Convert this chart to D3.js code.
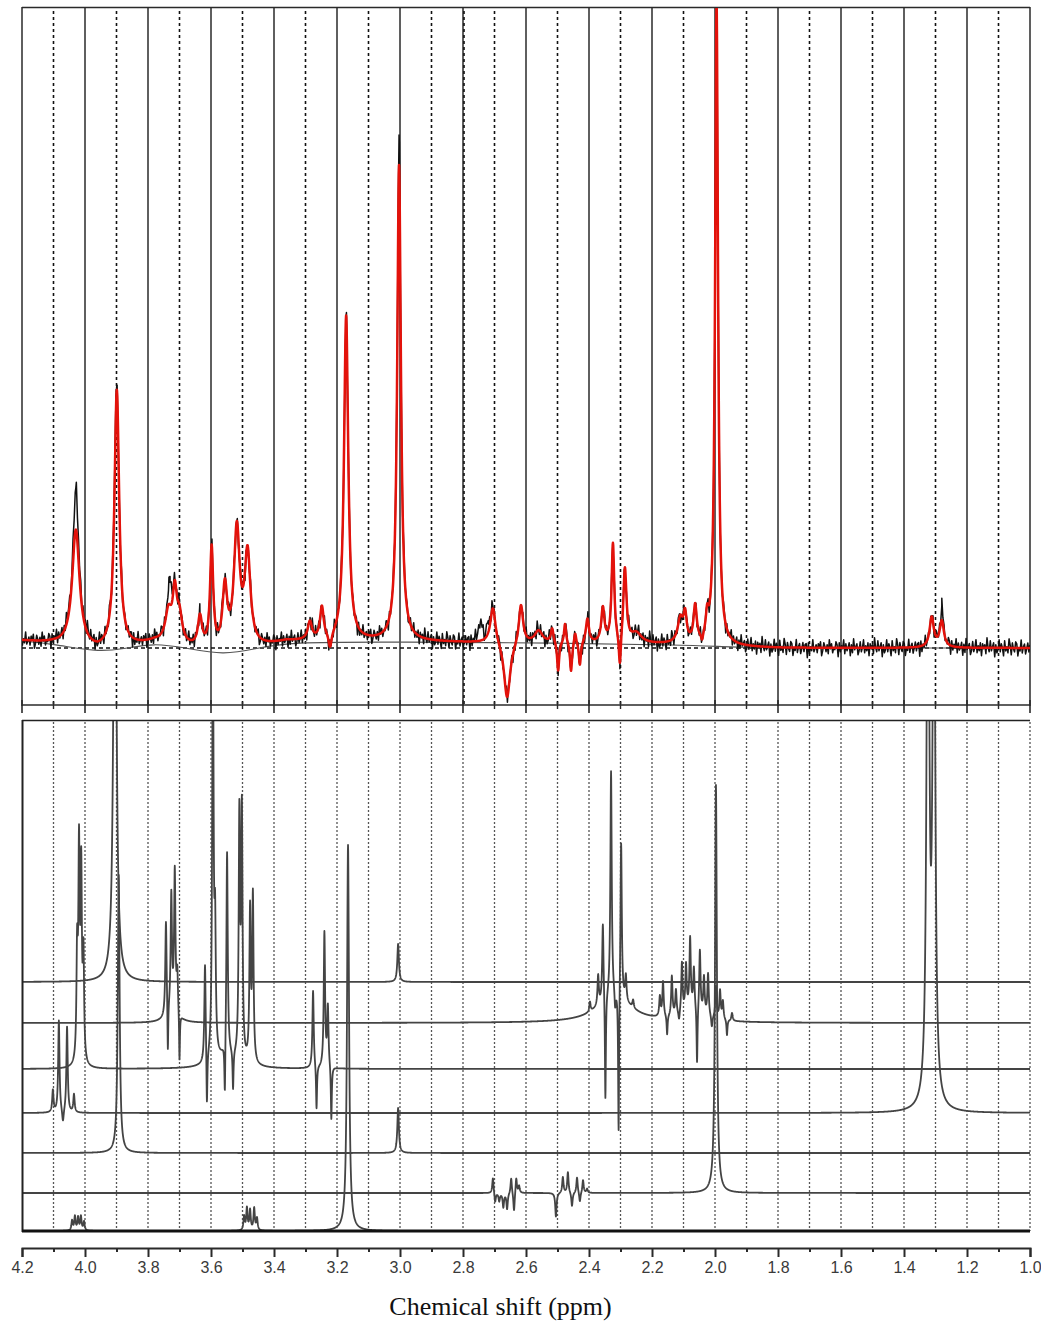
<!DOCTYPE html>
<html>
<head>
<meta charset="utf-8">
<script src="https://cdn.jsdelivr.net/npm/d3@7"></script>
<style>
  body { margin: 0; background: #fff; }
  svg { display: block; }
</style>
</head>
<body>
<svg id="chart" width="1041" height="1323"></svg>
<script>
// ---------------- data ----------------
// chemical-shift axis (ppm, decreasing to the right)
const ppmDomain = [4.2, 1.0];
const majorTicks = [4.2, 4.0, 3.8, 3.6, 3.4, 3.2, 3.0, 2.8, 2.6, 2.4, 2.2, 2.0, 1.8, 1.6, 1.4, 1.2, 1.0];
const minorTicks = [4.1, 3.9, 3.7, 3.5, 3.3, 3.1, 2.9, 2.7, 2.5, 2.3, 2.1, 1.9, 1.7, 1.5, 1.3, 1.1];
const markerLines = [2.8];
const axisTitle = "Chemical shift (ppm)";

// fitted spectrum: [ppm, amplitude, half-width (ppm)]
const fitPeaks = [
  [4.029, 117, 0.014],
  [3.899, 258, 0.009],
  [3.735, 30, 0.012],
  [3.715, 48, 0.008],
  [3.700, 26, 0.010],
  [3.635, 30, 0.008],
  [3.598, 100, 0.006],
  [3.556, 62, 0.009],
  [3.518, 118, 0.011],
  [3.484, 92, 0.011],
  [3.286, 18, 0.008],
  [3.248, 32, 0.007],
  [3.222, -16, 0.006],
  [3.171, 325, 0.008],
  [3.003, 476, 0.007],
  [2.705, 37, 0.010],
  [2.660, -58, 0.012],
  [2.616, 40, 0.008],
  [2.560, 12, 0.015],
  [2.517, 14, 0.005],
  [2.498, -30, 0.004],
  [2.476, 20, 0.004],
  [2.457, -30, 0.004],
  [2.444, 12, 0.004],
  [2.429, -24, 0.004],
  [2.405, 24, 0.006],
  [2.356, 34, 0.006],
  [2.324, 98, 0.005],
  [2.302, -35, 0.004],
  [2.286, 74, 0.006],
  [2.250, 10, 0.020],
  [2.110, 24, 0.010],
  [2.095, 26, 0.006],
  [2.063, 36, 0.006],
  [2.041, -8, 0.004],
  [2.025, 20, 0.005],
  [1.995, 642, 0.0055],
  [1.312, 30, 0.008],
  [1.280, 26, 0.008]
];
// measured minus fit, structured part
const residualPeaks = [
  [4.029, 42, 0.008],
  [3.905, 14, 0.004],
  [3.730, 28, 0.005],
  [3.003, 30, 0.003],
  [2.745, 18, 0.008],
  [2.720, 10, 0.005],
  [1.280, 14, 0.004]
];
// smooth fit baseline
const fitBaselinePpm = [4.20, 4.10, 3.96, 3.88, 3.78, 3.68, 3.56, 3.46, 3.36, 3.00, 2.50, 2.10, 1.95, 1.80, 1.00];
const fitBaselineValues = [7, 4, -4, -1, 5, 0, -7, -1, 6, 6, 5, 3, 1, 0, 0];
// measured noise samples
const spectrumNoise = [3,-4,5,-1,-6,4,1,-5,8,-3,0,-8,4,6,-4,-1,5,-7,3,9,-5,1,-3,7,-8,0,4,-4,8,-2,
  -5,3,-9,5,1,-3,7,-4,0,10,-6,3,-1,4,-8,5,-3,2,-5,8,0,-4,6,-3,-7,4,1,-2,9,-5,
  3,-8,5,0,-3,4,-6,8,-1,2,-4,5,-9,3,6,-2,0,-5,4,-1,8,-6,3,-4,1,5,-3,-8,6,0,
  4,-5,3,-1,-4,8,-3,1,-6,5,-10,4];

// basis spectra, top to bottom: [ppm, amplitude, half-width (ppm)]
const creatinePeaks = [
  [3.905, 600, 0.005],
  [3.006, 38, 0.003]
];
const glutamatePeaks = [
  [3.743, 95], [3.737, -55, 0.0015], [3.726, 115], [3.715, 140], [3.707, 40], [3.700, -50, 0.0015],
  [3.725, 10, 0.02],
  [2.397, 10], [2.371, 30], [2.356, 80], [2.348, -110, 0.0018], [2.330, 225], [2.317, -20],
  [2.306, -150, 0.0018], [2.298, 160], [2.283, 25], [2.260, 8],
  [2.320, 28, 0.06],
  [2.175, 20], [2.165, 35], [2.152, -20, 0.0018], [2.137, 40], [2.124, 25], [2.114, -10],
  [2.105, 50], [2.092, 45], [2.079, 70], [2.067, 40], [2.057, -60, 0.0018], [2.048, 62],
  [2.035, 36], [2.022, 42], [2.010, -12], [1.997, 32], [1.984, 28], [1.975, 18],
  [1.962, -16, 0.0018], [1.946, 8],
  [2.070, 12, 0.04]
];
const myoInositolPeaks = [
  [4.025, 106], [4.019, 205], [4.012, 184], [4.005, 103],
  [3.619, 100], [3.613, -60, 0.0018],
  [3.594, 450], [3.587, 120],
  [3.556, -60, 0.0018], [3.549, 205],
  [3.530, -40, 0.0018],
  [3.510, 240], [3.502, 245],
  [3.476, 150], [3.467, 165],
  [3.550, 12, 0.04],
  [3.276, 78], [3.265, -45, 0.0018], [3.240, 135], [3.229, 60], [3.218, -55, 0.0018]
];
const lactatePeaks = [
  [4.102, 22], [4.083, 92], [4.070, -14, 0.003], [4.057, 86], [4.035, 18],
  [1.324, 700, 0.0045], [1.305, 650, 0.0045]
];
const phosphocreatinePeaks = [
  [3.893, 278, 0.0035],
  [3.006, 45, 0.003]
];
const naaPeaks = [
  [1.997, 408, 0.0035],
  [2.705, 16], [2.698, -10], [2.685, -8], [2.672, -14], [2.660, -16],
  [2.647, 16], [2.638, -20], [2.631, 16], [2.622, 7],
  [2.505, -24], [2.483, 16], [2.467, 21], [2.454, -14], [2.438, 16],
  [2.429, -10], [2.419, 13], [2.406, 4]
];
const cholinePeaks = [
  [3.165, 386, 0.0038],
  [4.041, 10], [4.032, 14], [4.022, 13], [4.013, 14], [4.003, 9],
  [3.495, 14], [3.486, 22], [3.476, 20], [3.463, 22], [3.454, 12]
];
const basisSpectra = [creatinePeaks, glutamatePeaks, myoInositolPeaks, lactatePeaks,
                      phosphocreatinePeaks, naaPeaks, cholinePeaks];

// ---------------- layout ----------------
const svg = d3.select("#chart");
const left = 22, right = 1030;
const topPanel = { top: 8, bottom: 706 };
const botPanel = { top: 720, bottom: 1231 };
const stackOffsets = [249, 208, 162, 118, 78, 38, 0];
const defaultWidth = 0.0025;

const x = d3.scaleLinear().domain(ppmDomain).range([left, right]);
const yTop = d3.scaleLinear().domain([-58, 640]).range([topPanel.bottom, topPanel.top]);
const yBot = d3.scaleLinear().domain([0, botPanel.bottom - botPanel.top]).range([botPanel.bottom, botPanel.top]);
const fitBaseline = d3.scaleLinear().domain(fitBaselinePpm).range(fitBaselineValues);

// Lorentzian line shape summed over a peak list
function lineShape(peaks, ppm) {
  let s = 0;
  for (const [p0, h, w = defaultWidth] of peaks) {
    const d = ppm - p0;
    s += h * w * w / (d * d + w * w);
  }
  return s;
}
function ppmGrid(step, peaks) {
  const pts = d3.range(ppmDomain[1], ppmDomain[0] + step / 2, step);
  peaks.forEach(p => pts.push(p[0]));
  return pts.sort(d3.ascending);
}

const defs = svg.append("defs");
defs.append("clipPath").attr("id", "clipTop").append("rect")
  .attr("x", left).attr("y", topPanel.top).attr("width", right - left).attr("height", topPanel.bottom - topPanel.top);
defs.append("clipPath").attr("id", "clipBot").append("rect")
  .attr("x", left).attr("y", botPanel.top).attr("width", right - left).attr("height", botPanel.bottom - botPanel.top);

// ---------------- upper panel: measured spectrum and fit ----------------
const gTop = svg.append("g");
gTop.selectAll("line.solid").data(majorTicks).join("line")
  .attr("x1", d => x(d)).attr("x2", d => x(d))
  .attr("y1", topPanel.top - 1).attr("y2", topPanel.bottom)
  .attr("stroke", "#2a2a2a").attr("stroke-width", 1.5);
gTop.selectAll("line.dash").data(minorTicks.concat(markerLines)).join("line")
  .attr("x1", d => x(d) + (markerLines.includes(d) ? 1 : 0))
  .attr("x2", d => x(d) + (markerLines.includes(d) ? 1 : 0))
  .attr("y1", topPanel.top + 3).attr("y2", topPanel.bottom)
  .attr("stroke", "#111").attr("stroke-width", 1.6).attr("stroke-dasharray", "3,3");
gTop.append("line")
  .attr("x1", left).attr("x2", right).attr("y1", topPanel.top - 0.5).attr("y2", topPanel.top - 0.5)
  .attr("stroke", "#2a2a2a").attr("stroke-width", 1.6);
gTop.append("line")
  .attr("x1", left).attr("x2", right).attr("y1", yTop(0)).attr("y2", yTop(0))
  .attr("stroke", "#111").attr("stroke-width", 1.3).attr("stroke-dasharray", "4,3");

// ticks along the lower edge of the upper panel
const topAxisY = 705;
gTop.append("line").attr("x1", left).attr("x2", right).attr("y1", topAxisY).attr("y2", topAxisY)
  .attr("stroke", "#2a2a2a").attr("stroke-width", 1.6);
gTop.selectAll("line.tmaj").data(majorTicks).join("line")
  .attr("x1", d => x(d)).attr("x2", d => x(d)).attr("y1", topAxisY - 5).attr("y2", topAxisY + 8)
  .attr("stroke", "#2a2a2a").attr("stroke-width", 1.6);
gTop.selectAll("line.tmin").data(minorTicks).join("line")
  .attr("x1", d => x(d)).attr("x2", d => x(d)).attr("y1", topAxisY - 3).attr("y2", topAxisY + 4)
  .attr("stroke", "#2a2a2a").attr("stroke-width", 1.4);

const topLine = d3.line().x(d => x(d[0])).y(d => yTop(d[1]));
const spectra = gTop.append("g").attr("clip-path", "url(#clipTop)");

// baseline of the fit
spectra.append("path")
  .datum(fitBaselinePpm.map((p, i) => [p, fitBaselineValues[i]]))
  .attr("d", d3.line().x(d => x(d[0])).y(d => yTop(d[1])).curve(d3.curveBasis))
  .attr("fill", "none").attr("stroke", "#555").attr("stroke-width", 1.1);

// measured (noisy) spectrum
const noiseStep = 0.0035;
const measured = d3.range(ppmDomain[1], ppmDomain[0] + noiseStep / 2, noiseStep)
  .map((p, i) => [p, spectrumNoise[i % spectrumNoise.length]]);
fitPeaks.concat(residualPeaks).forEach(pk => measured.push([pk[0], 0]));
measured.sort((a, b) => a[0] - b[0]);
const measuredPts = measured.map(([p, n]) =>
  [p, fitBaseline(p) + lineShape(fitPeaks, p) + lineShape(residualPeaks, p) + n]);
spectra.append("path").datum(measuredPts).attr("d", topLine)
  .attr("fill", "none").attr("stroke", "#111").attr("stroke-width", 1.5).attr("stroke-linejoin", "round");

// fit
const fitPts = ppmGrid(0.0008, fitPeaks).map(p => [p, fitBaseline(p) + lineShape(fitPeaks, p)]);
spectra.append("path").datum(fitPts).attr("d", topLine)
  .attr("fill", "none").attr("stroke", "#e3120b").attr("stroke-width", 2.5).attr("stroke-linejoin", "round");

// ---------------- lower panel: stacked basis spectra ----------------
const gBot = svg.append("g");
gBot.selectAll("line.grid").data(minorTicks.concat(majorTicks.filter(d => d !== ppmDomain[0]))).join("line")
  .attr("x1", d => x(d)).attr("x2", d => x(d))
  .attr("y1", botPanel.top + 2).attr("y2", botPanel.bottom)
  .attr("stroke", "#555").attr("stroke-width", 1.3).attr("stroke-dasharray", "2,2");

const botLine = d3.line().x(d => x(d[0])).y(d => yBot(d[1]));
const traces = gBot.append("g").attr("clip-path", "url(#clipBot)");
basisSpectra.forEach((peaks, i) => {
  const pts = ppmGrid(0.0005, peaks).map(p => [p, stackOffsets[i] + lineShape(peaks, p)]);
  traces.append("path").datum(pts).attr("d", botLine)
    .attr("fill", "none").attr("stroke", "#444").attr("stroke-width", 1.8)
    .attr("stroke-linejoin", "round");
});

gBot.append("line").attr("x1", left).attr("x2", right).attr("y1", botPanel.top + 0.5).attr("y2", botPanel.top + 0.5)
  .attr("stroke", "#222").attr("stroke-width", 1.6);
gBot.append("line").attr("x1", left + 0.5).attr("x2", left + 0.5).attr("y1", botPanel.top).attr("y2", botPanel.bottom + 1)
  .attr("stroke", "#222").attr("stroke-width", 2);
gBot.append("line").attr("x1", left).attr("x2", right).attr("y1", botPanel.bottom).attr("y2", botPanel.bottom)
  .attr("stroke", "#111").attr("stroke-width", 3);

// ---------------- chemical shift axis ----------------
const axisY = 1248;
const axisMajor = d3.axisBottom(x).tickValues(majorTicks).tickSizeInner(9).tickSizeOuter(9)
  .tickPadding(5).tickFormat(d3.format(".1f"));
const axisMinor = d3.axisBottom(x).tickValues(minorTicks).tickSize(4).tickFormat("");
const gAxis = svg.append("g").attr("transform", `translate(0,${axisY})`).call(axisMajor);
gAxis.select(".domain").attr("stroke", "#2a2a2a").attr("stroke-width", 2);
gAxis.selectAll(".tick line").attr("stroke", "#2a2a2a").attr("stroke-width", 2);
gAxis.selectAll(".tick text").attr("font-family", "Liberation Sans, Arial, sans-serif")
  .attr("font-size", 16).attr("fill", "#3a3a3a");
const gMinor = svg.append("g").attr("transform", `translate(0,${axisY})`).call(axisMinor);
gMinor.select(".domain").remove();
gMinor.selectAll(".tick line").attr("stroke", "#2a2a2a").attr("stroke-width", 2);

svg.append("text").attr("x", 500.5).attr("y", 1315).attr("text-anchor", "middle")
  .attr("font-family", "Liberation Serif, Times New Roman, serif").attr("font-size", 26)
  .attr("fill", "#111").text(axisTitle);
</script>
</body>
</html>
